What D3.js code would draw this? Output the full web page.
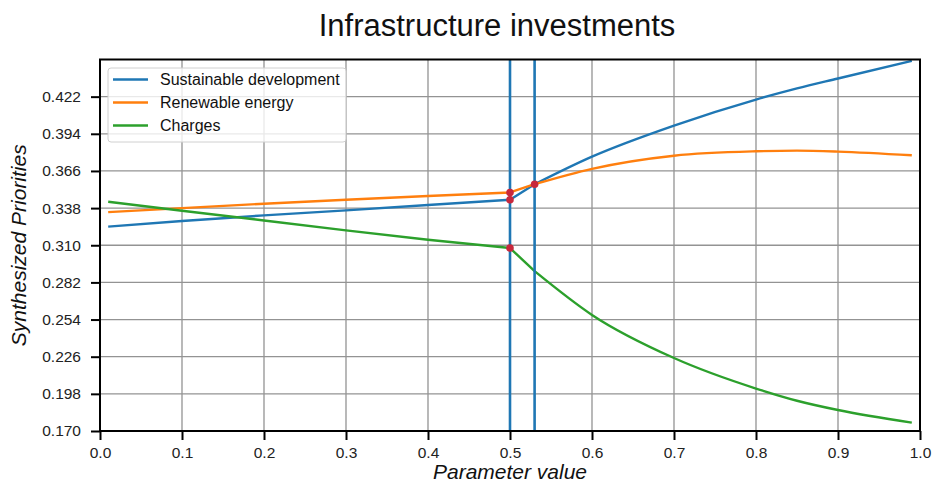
<!DOCTYPE html>
<html lang="en">
<head>
<meta charset="UTF-8">
<title>Infrastructure investments</title>
<script src="https://cdn.jsdelivr.net/npm/d3@7"></script>
<style>
  body { margin: 0; background: #fff; }
  text { font-family: "Liberation Sans", Arial, sans-serif; }
</style>
</head>
<body>
<svg width="935" height="488"></svg>
<script>
// parameter values (x)
var params = [0.01, 0.1, 0.2, 0.3, 0.4, 0.5, 0.53, 0.6, 0.7, 0.8, 0.85, 0.9, 0.99];
// synthesized priorities per alternative
var sustainable = [0.324, 0.3283, 0.3325, 0.3363, 0.3403, 0.3443, 0.356, 0.3768, 0.4002, 0.4198, 0.4282, 0.4357, 0.4490];
var renewable   = [0.335, 0.338, 0.3413, 0.3443, 0.3471, 0.3498, 0.356, 0.3676, 0.3775, 0.3808, 0.3813, 0.3806, 0.3778];
var charges     = [0.3428, 0.336, 0.3287, 0.3212, 0.3141, 0.3079, 0.2905, 0.2575, 0.2250, 0.2020, 0.1928, 0.1858, 0.1763];
var seriesNames = ['Sustainable development', 'Renewable energy', 'Charges'];
var colors = ['#1f77b4', '#ff7f0e', '#2ca02c'];
// marked points (sensitivity thresholds)
var thresholds = [0.5, 0.53];
var xTicks = [0.0, 0.1, 0.2, 0.3, 0.4, 0.5, 0.6, 0.7, 0.8, 0.9, 1.0];
var yTicks = [0.170, 0.198, 0.226, 0.254, 0.282, 0.310, 0.338, 0.366, 0.394, 0.422];

var svg = d3.select('svg');
var margin = { left: 100, top: 59.5, right: 15, bottom: 57 };
var W = 935 - margin.left - margin.right;
var H = 488 - margin.top - margin.bottom;

var x = d3.scaleLinear().domain([0, 1]).range([0, W]);
var y = d3.scaleLinear().domain([0.170, 0.450]).range([H, 0]);

var g = svg.append('g').attr('transform', 'translate(' + margin.left + ',' + margin.top + ')');

// grid
g.append('g').selectAll('line').data(xTicks).enter().append('line')
  .attr('x1', d => x(d)).attr('x2', d => x(d)).attr('y1', 0).attr('y2', H)
  .attr('stroke', '#939393').attr('stroke-width', 1.3);
g.append('g').selectAll('line').data(yTicks).enter().append('line')
  .attr('y1', d => y(d)).attr('y2', d => y(d)).attr('x1', 0).attr('x2', W)
  .attr('stroke', '#939393').attr('stroke-width', 1.3);

// series lines: straight up to the second threshold, smooth after it
var allSeries = [sustainable, renewable, charges];
var split = params.indexOf(0.53);
var lineLeft = d3.line().x(d => x(d[0])).y(d => y(d[1]));
var lineRight = d3.line().x(d => x(d[0])).y(d => y(d[1])).curve(d3.curveMonotoneX);

allSeries.forEach(function (s, k) {
  var pts = s.map((v, i) => [params[i], v]);
  [[lineLeft, pts.slice(0, split + 1)], [lineRight, pts.slice(split)]].forEach(function (p) {
    g.append('path').datum(p[1])
      .attr('d', p[0])
      .attr('fill', 'none')
      .attr('stroke', colors[k])
      .attr('stroke-width', 2.4)
      .attr('stroke-linejoin', 'round');
  });
});

// vertical threshold lines
g.selectAll('.vline').data(thresholds).enter().append('line')
  .attr('class', 'vline')
  .attr('x1', d => x(d)).attr('x2', d => x(d)).attr('y1', 0).attr('y2', H)
  .attr('stroke', '#1f77b4').attr('stroke-width', 2.6);

// red markers at threshold values
var dots = [];
[0, 1, 2].forEach(function (k) { dots.push([0.5, allSeries[k][params.indexOf(0.5)]]); });
dots.push([0.53, sustainable[split]]);
g.selectAll('.dot').data(dots).enter().append('circle')
  .attr('cx', d => x(d[0])).attr('cy', d => y(d[1])).attr('r', 3.8)
  .attr('fill', '#c8283c');

// axes
var xAxis = d3.axisBottom(x).tickValues(xTicks).tickFormat(d3.format('.1f')).tickSize(9).tickPadding(7);
var yAxis = d3.axisLeft(y).tickValues(yTicks).tickFormat(d3.format('.3f')).tickSize(9).tickPadding(10);

var gx = g.append('g').attr('transform', 'translate(0,' + H + ')').call(xAxis);
var gy = g.append('g').call(yAxis);
[gx, gy].forEach(function (a) {
  a.select('.domain').remove();
  a.selectAll('.tick line').attr('stroke', '#000').attr('stroke-width', 2);
  a.selectAll('.tick text').attr('fill', '#222').style('font-size', '15.5px')
    .style('font-family', '"Liberation Sans", Arial, sans-serif');
});

// frame
g.append('rect').attr('x', 0).attr('y', 0).attr('width', W).attr('height', H)
  .attr('fill', 'none').attr('stroke', '#000').attr('stroke-width', 2);

// legend
var lg = g.append('g').attr('transform', 'translate(8,8.5)');
lg.append('rect').attr('width', 238).attr('height', 74).attr('rx', 3)
  .attr('fill', 'rgba(255,255,255,0.8)').attr('stroke', '#d0d0d0').attr('stroke-width', 1);
seriesNames.forEach(function (n, k) {
  var yy = 11.5 + k * 23;
  lg.append('line').attr('x1', 5).attr('x2', 40).attr('y1', yy).attr('y2', yy)
    .attr('stroke', colors[k]).attr('stroke-width', 2.4);
  lg.append('text').attr('x', 52).attr('y', yy + 5.5).text(n)
    .style('font-size', '16px').attr('fill', '#111');
});

// title and labels
svg.append('text').attr('x', 497).attr('y', 36).attr('text-anchor', 'middle')
  .style('font-size', '31px').attr('fill', '#111').text('Infrastructure investments');
svg.append('text').attr('x', margin.left + W / 2).attr('y', 479).attr('text-anchor', 'middle')
  .style('font-size', '21px').style('font-style', 'italic').attr('fill', '#111').text('Parameter value');
svg.append('text').attr('transform', 'translate(26,' + (margin.top + H / 2) + ') rotate(-90)')
  .attr('text-anchor', 'middle')
  .style('font-size', '21px').style('font-style', 'italic').attr('fill', '#111').text('Synthesized Priorities');
</script>
</body>
</html>
